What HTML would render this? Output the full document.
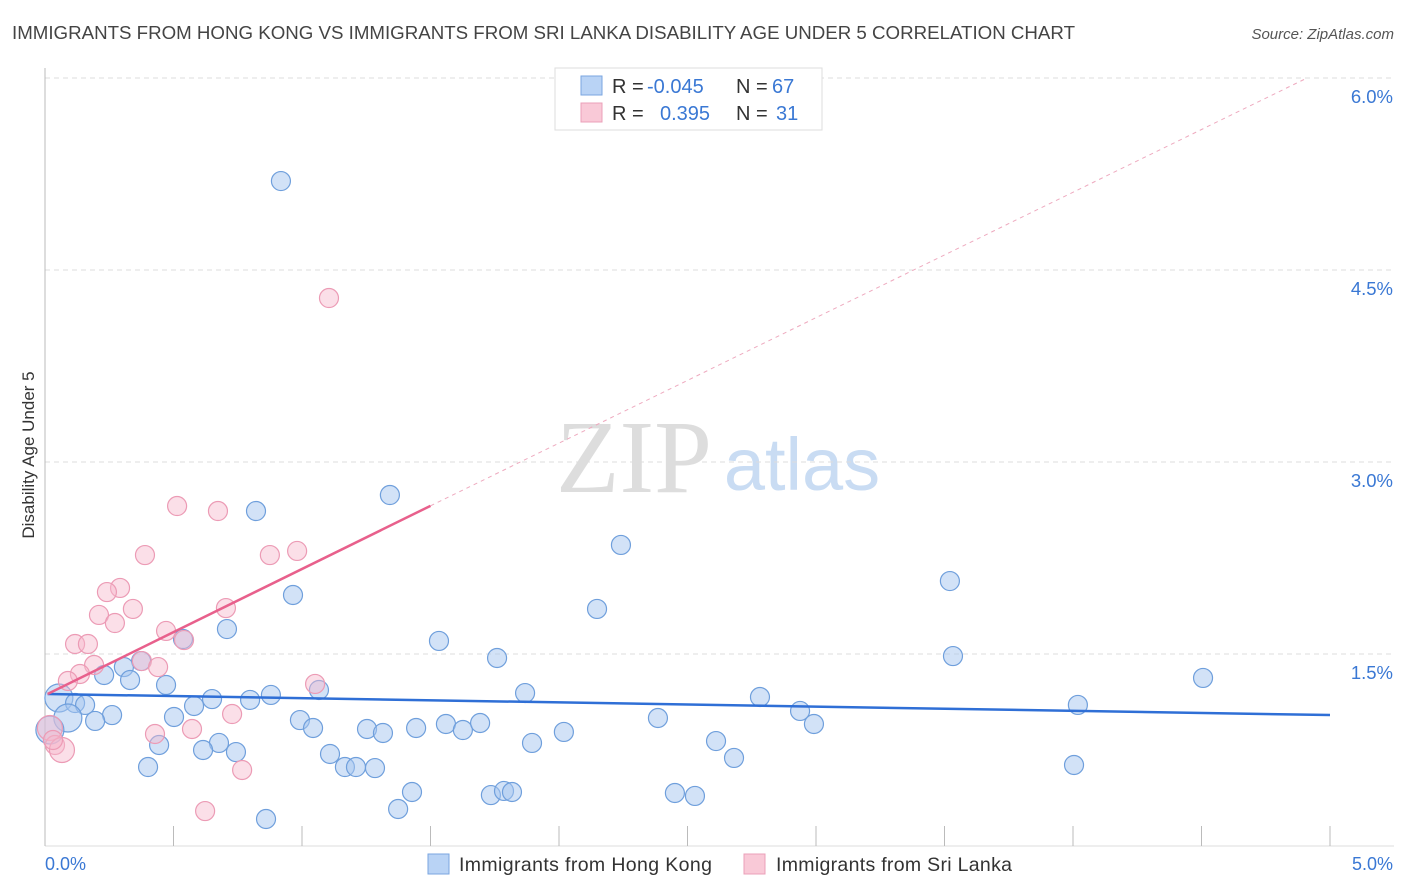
<!DOCTYPE html>
<html><head><meta charset="utf-8"><style>
body{margin:0;background:#fff;font-family:"Liberation Sans",sans-serif;}
#wrap{position:relative;width:1406px;height:892px;overflow:hidden}
</style></head><body>
<div id="wrap">
<svg id="svg" width="1406" height="892" xmlns="http://www.w3.org/2000/svg">
<text x="12" y="39" font-size="18" fill="#444" textLength="1063" lengthAdjust="spacingAndGlyphs">IMMIGRANTS FROM HONG KONG VS IMMIGRANTS FROM SRI LANKA DISABILITY AGE UNDER 5 CORRELATION CHART</text>
<text x="1394" y="39" font-size="15" fill="#555" font-style="italic" text-anchor="end">Source: ZipAtlas.com</text>
<text x="634" y="492" font-size="104" fill="#ddd" font-family="Liberation Serif,serif" text-anchor="middle">ZIP</text>
<text x="802" y="490" font-size="74" fill="#c9dcf3" text-anchor="middle">atlas</text>
<text x="34" y="455" font-size="17" fill="#333" text-anchor="middle" transform="rotate(-90 34 455)">Disability Age Under 5</text>
<g id="grid"></g><g id="pts"></g><g id="lines"></g>
<rect x="555" y="68" width="267" height="62" fill="#fff" stroke="#ddd"/>
<rect x="581" y="76" width="21" height="19" fill="#b9d3f5" stroke="#7aa6e0"/>
<rect x="581" y="103" width="21" height="19" fill="#f9c9d7" stroke="#eba0b8"/>
<text x="612" y="93" font-size="20" fill="#333">R = <tspan fill="#3a78d4" x="647">-0.045</tspan><tspan x="736">N = </tspan><tspan fill="#3a78d4" x="772">67</tspan></text>
<text x="612" y="120" font-size="20" fill="#333">R = <tspan fill="#3a78d4" x="660">0.395</tspan><tspan x="736">N = </tspan><tspan fill="#3a78d4" x="776">31</tspan></text>
<text x="45" y="870" font-size="18" fill="#3a78d4">0.0%</text>
<text x="1393" y="870" font-size="18" fill="#3a78d4" text-anchor="end">5.0%</text>
<rect x="428" y="854" width="21" height="20" fill="#b9d3f5" stroke="#7aa6e0"/>
<text x="459" y="871" font-size="19.5" fill="#333" textLength="253">Immigrants from Hong Kong</text>
<rect x="744" y="854" width="21" height="20" fill="#f9c9d7" stroke="#eba0b8"/>
<text x="776" y="871" font-size="19.5" fill="#333" textLength="236">Immigrants from Sri Lanka</text>
</svg></div>
<script>
const yTicks=[1.5,3.0,4.5,6.0];
const yTickLabels=["1.5%","3.0%","4.5%","6.0%"];
const xTicks=[0,0.5,1,1.5,2,2.5,3,3.5,4,4.5,5];
const hkX=[0.918,1.342,0.821,2.241,3.521,0.965,2.148,0.708,1.533,0.537,3.533,1.759,0.374,0.307,0.230,0.331,0.471,4.506,1.066,0.879,0.650,0.798,0.054,0.117,0.156,1.868,2.782,0.580,2.938,4.019,0.261,0.089,0.195,0.502,0.992,1.043,1.253,1.444,1.560,1.626,1.693,1.315,2.019,2.385,2.992,0.444,0.677,0.743,0.615,1.109,1.895,2.611,2.681,0.401,1.167,1.210,1.284,4.004,1.428,1.735,1.786,1.817,2.451,2.529,1.374,0.860,0.019];
const hkY=[5.195,2.742,2.617,2.352,2.070,1.961,1.852,1.695,1.602,1.617,1.484,1.469,1.445,1.398,1.336,1.297,1.258,1.313,1.219,1.180,1.148,1.141,1.156,1.117,1.102,1.195,1.164,1.094,1.055,1.102,1.023,1.000,0.977,1.008,0.984,0.922,0.914,0.922,0.953,0.906,0.961,0.883,0.891,1.000,0.953,0.789,0.805,0.734,0.750,0.719,0.805,0.820,0.688,0.617,0.617,0.617,0.609,0.633,0.422,0.398,0.430,0.422,0.414,0.391,0.289,0.211,0.906];
const slX=[1.105,0.514,0.673,0.389,0.875,0.981,0.292,0.241,0.210,0.342,0.704,0.272,0.117,0.167,0.471,0.541,0.377,0.191,0.136,0.440,0.089,1.051,0.728,0.572,0.428,0.767,0.623,0.019,0.039,0.066,0.031];
const slY=[4.281,2.656,2.617,2.273,2.273,2.305,2.016,1.984,1.805,1.852,1.859,1.742,1.578,1.578,1.680,1.609,1.445,1.414,1.344,1.398,1.289,1.266,1.031,0.914,0.875,0.594,0.273,0.922,0.789,0.750,0.828];
const hkBig=[22,31,66];const slBig=[27,29];
const hkTrend=[1.1875,1.023];
const slTrend=[1.1875,0.98];
const NS="http://www.w3.org/2000/svg";
const X=v=>45+v*257, Y=v=>846-v*128;
function mk(t,a,p){const e=document.createElementNS(NS,t);for(const k in a)e.setAttribute(k,a[k]);p.appendChild(e);return e;}
const grid=document.getElementById('grid'),pts=document.getElementById('pts'),lines=document.getElementById('lines');
yTicks.forEach((t,i)=>{
 const l=mk('line',{x1:45,x2:1394,y1:Y(t),y2:Y(t),stroke:'#ddd','stroke-dasharray':'5,4'},grid);
 
 
 const tx=mk('text',{x:1393,y:Y(t)+25,'font-size':18.5,fill:'#3a78d4','text-anchor':'end'},grid);
 tx.textContent=yTickLabels[i];
 
 
});
const ax=mk('line',{x1:45,x2:45,y1:68,y2:846,stroke:'#bbb'},grid);


const bx=mk('line',{x1:45,x2:1394,y1:846,y2:846,stroke:'#ddd'},grid);


xTicks.forEach(t=>{
 const l=mk('line',{x1:X(t),x2:X(t),y1:826,y2:846,stroke:'#bbb'},grid);
 
 
});
hkX.forEach((x,i)=>{
 const c=mk('circle',{cx:X(x),cy:Y(hkY[i]),r:hkBig.includes(i)?14:9.5,fill:'rgba(165,198,240,0.5)',stroke:'#6f9fdc','stroke-width':1.2},pts);
 
 
});
slX.forEach((x,i)=>{
 const c=mk('circle',{cx:X(x),cy:Y(slY[i]),r:slBig.includes(i)?12.5:9.5,fill:'rgba(246,185,205,0.45)',stroke:'#ec9bb5','stroke-width':1.2},pts);
 
 
});
const hl=mk('line',{x1:X(0.01),y1:Y(hkTrend[0]),x2:X(5),y2:Y(hkTrend[1]),stroke:'#2f6fd6','stroke-width':2.5},lines);


const sl=mk('line',{x1:X(0.01),y1:Y(slTrend[0]),x2:X(1.5),y2:Y(slTrend[0]+slTrend[1]*1.5),stroke:'#e8608c','stroke-width':2.5},lines);


const xe=(6.0-slTrend[0])/slTrend[1];
const sd=mk('line',{x1:X(1.5),y1:Y(slTrend[0]+slTrend[1]*1.5),x2:X(xe),y2:Y(6.0),stroke:'#eeaabf','stroke-width':1,'stroke-dasharray':'4,4'},lines);


</script>
</body></html>
